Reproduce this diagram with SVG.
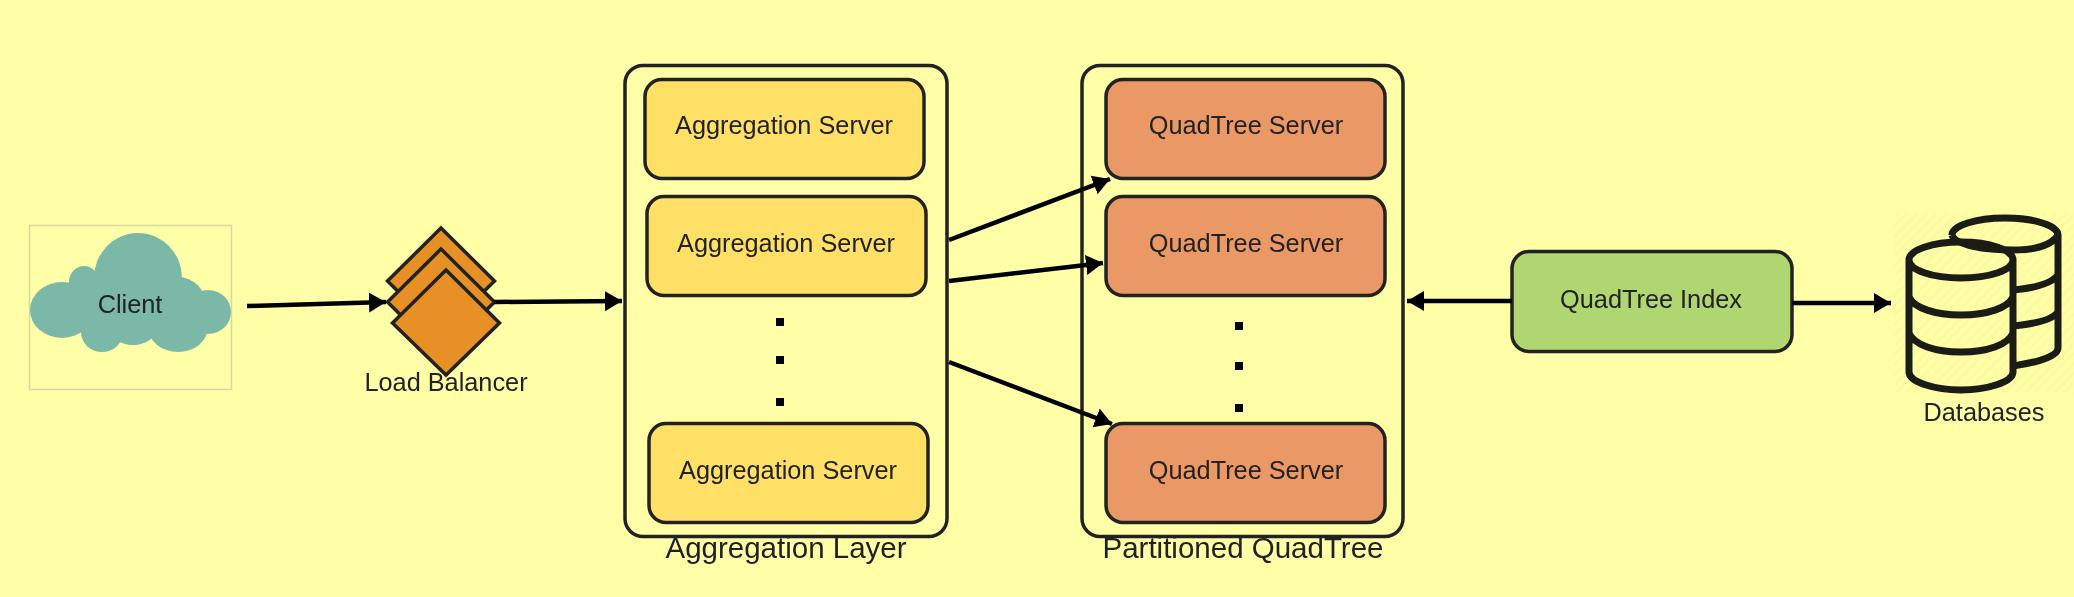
<svg xmlns="http://www.w3.org/2000/svg" width="2074" height="597" viewBox="0 0 2074 597">
<style>
text{font-family:"Liberation Sans",Arial,sans-serif;font-size:25.300px;fill:#222;text-anchor:middle}
.lbl{font-size:29.500px}
.box{stroke:#222;stroke-width:3.500}
.cont{fill:none;stroke:#222;stroke-width:3.500}
.agg{fill:#ffe066}
.quad{fill:#ea9866}
.dia{fill:#e69026;stroke:#222;stroke-width:3.500;stroke-linejoin:miter}
.dot{fill:#000}
.conn{fill:none;stroke:#000;stroke-width:4.500;marker-end:url(#arr)}
.db{fill:none;stroke:#1c1c14;stroke-width:7}
</style>
<defs>
<marker id="arr" markerUnits="userSpaceOnUse" markerWidth="19" markerHeight="22" refX="17" refY="11" orient="auto"><path d="M0 1L17 11L0 21Z" fill="#000"/></marker>
<pattern id="hatch" width="7" height="7" patternUnits="userSpaceOnUse" patternTransform="rotate(-45)"><rect width="7" height="7" fill="#ffffa8"/><rect width="7" height="3" fill="#fbfba2"/></pattern>
<filter id="soft" filterUnits="userSpaceOnUse" x="0" y="0" width="2074" height="597"><feGaussianBlur stdDeviation="0.700"/></filter>
</defs>
<rect width="2074" height="597" fill="#ffffa8"/>
<g filter="url(#soft)">
<g id="client">
<rect x="29.500" y="225.500" width="202" height="164" fill="#ffffa8" stroke="#d8d8a0" stroke-width="1.500"/>
<g fill="#7cb8a8">
<ellipse cx="138" cy="278" rx="44" ry="45"/><ellipse cx="62" cy="310" rx="32" ry="28"/><ellipse cx="208" cy="312" rx="23" ry="22"/><ellipse cx="84" cy="282" rx="15" ry="16"/><ellipse cx="178" cy="305" rx="28" ry="28"/><ellipse cx="102" cy="332" rx="21" ry="20"/><ellipse cx="133" cy="325" rx="25" ry="20"/><ellipse cx="178" cy="327" rx="30" ry="25"/><ellipse cx="130" cy="308" rx="72" ry="26"/>
</g>
<text x="130" y="313">Client</text>
</g>
<g id="load-balancer">
<path class="dia" d="M441 228L494.500 281L441 334L387.500 281Z"/>
<path class="dia" d="M441 249L494.500 302L441 355L387.500 302Z"/>
<path class="dia" d="M446 270L499.500 323L446 375L392.500 323Z"/>
<text x="446" y="391">Load Balancer</text>
</g>
<g id="aggregation-layer">
<rect class="cont" x="625" y="65.500" width="322" height="471" rx="18"/>
<text class="lbl" x="786" y="558">Aggregation Layer</text>
<rect class="dot" x="776" y="318" width="8" height="8"/><rect class="dot" x="776" y="356" width="8" height="8"/><rect class="dot" x="776" y="398" width="8" height="8"/>
</g>
<g id="aggregation-server-1"><rect class="box agg" x="645" y="79.500" width="279" height="99" rx="17"/><text x="784" y="134">Aggregation Server</text></g>
<g id="aggregation-server-2"><rect class="box agg" x="647" y="196.500" width="279" height="99" rx="17"/><text x="786" y="252">Aggregation Server</text></g>
<g id="aggregation-server-3"><rect class="box agg" x="649" y="423.500" width="279" height="99" rx="17"/><text x="788" y="479">Aggregation Server</text></g>
<g id="partitioned-quadtree">
<rect class="cont" x="1082" y="65.500" width="321" height="471" rx="18"/>
<text class="lbl" x="1243" y="558">Partitioned QuadTree</text>
<rect class="dot" x="1235" y="322" width="8" height="8"/><rect class="dot" x="1235" y="362" width="8" height="8"/><rect class="dot" x="1235" y="404" width="8" height="8"/>
</g>
<g id="quadtree-server-1"><rect class="box quad" x="1106" y="79.500" width="279" height="99" rx="17"/><text x="1246" y="134">QuadTree Server</text></g>
<g id="quadtree-server-2"><rect class="box quad" x="1106" y="196.500" width="279" height="99" rx="17"/><text x="1246" y="252">QuadTree Server</text></g>
<g id="quadtree-server-3"><rect class="box quad" x="1106" y="423.500" width="279" height="99" rx="17"/><text x="1246" y="479">QuadTree Server</text></g>
<g id="quadtree-index"><rect class="box" fill="#b0d672" x="1512" y="251.500" width="280" height="100" rx="17"/><text x="1651" y="308">QuadTree Index</text></g>
<g id="databases">
<rect x="1894" y="213" width="180" height="180" fill="url(#hatch)"/>
<path class="db" d="M1952 235A53 17 0 0 1 2058 235V348C2058 356 2040 362 2013 366M1952 235C1955 245 1985 250 2013 250M2058 275C2052 283 2035 288 2013 290M2058 312C2052 320 2035 324 2013 326M2058 235C2052 245 2035 250 2013 250"/>
<path class="db" d="M1909 260A52 18 0 0 1 2013 260A52 18 0 0 1 1909 260V372C1909 382 1935 390 1961 390C1987 390 2013 382 2013 372V260M1909 297C1914 308 1935 315 1961 315C1987 315 2008 308 2013 297M1909 333C1914 345 1935 352 1961 352C1987 352 2008 345 2013 333"/>
<text x="1984" y="421">Databases</text>
</g>
<g id="connectors">
<path class="conn" d="M247 306L386 302"/>
<path class="conn" d="M494 302L622 301"/>
<path class="conn" d="M949 240L1110 179"/>
<path class="conn" d="M949 281L1103 263"/>
<path class="conn" d="M949 362L1112 424"/>
<path class="conn" d="M1512 301L1407 301"/>
<path class="conn" d="M1792 303L1891 303"/>
</g>
</g>
</svg>
